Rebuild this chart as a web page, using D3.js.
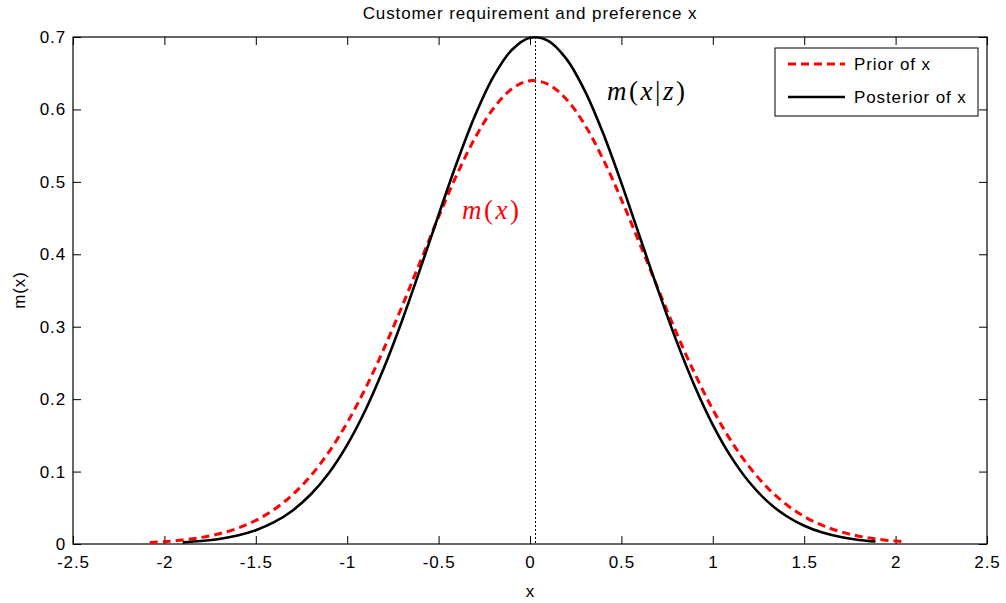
<!DOCTYPE html>
<html><head><meta charset="utf-8">
<script src="https://cdn.jsdelivr.net/npm/d3@7/dist/d3.min.js"></script>
<style>body{margin:0;background:#fff}</style>
</head><body>
<svg id="c" width="1006" height="603"></svg>
<script>
const title = "Customer requirement and preference x";
const xLabel = "x";
const yLabel = "m(x)";
const xTicks = [-2.5,-2,-1.5,-1,-0.5,0,0.5,1,1.5,2,2.5];
const yTicks = [0,0.1,0.2,0.3,0.4,0.5,0.6,0.7];
const seriesNames = ["Prior of x","Posterior of x"];
const priorX = [-2.08,-2.0,-1.9,-1.8,-1.7,-1.6,-1.5,-1.4,-1.3,-1.2,-1.1,-1.0,-0.9,-0.8,-0.7,-0.6,-0.5,-0.4,-0.3,-0.2,-0.1,0.0,0.1,0.2,0.3,0.4,0.5,0.6,0.7,0.8,0.9,1.0,1.1,1.2,1.3,1.4,1.5,1.6,1.7,1.8,1.9,2.0,2.06];
const priorY = [0.0022,0.0033,0.0055,0.0090,0.0141,0.0217,0.0326,0.0476,0.0678,0.0940,0.1271,0.1675,0.2150,0.2691,0.3281,0.3900,0.4517,0.5099,0.5609,0.6013,0.6282,0.6397,0.6347,0.6138,0.5785,0.5313,0.4756,0.4149,0.3527,0.2922,0.2360,0.1857,0.1423,0.1064,0.0775,0.0550,0.0380,0.0256,0.0169,0.0108,0.0067,0.0041,0.0030];
const postX = [-1.9,-1.8,-1.7,-1.6,-1.5,-1.4,-1.3,-1.2,-1.1,-1.0,-0.9,-0.8,-0.7,-0.6,-0.5,-0.4,-0.3,-0.2,-0.1,0.0,0.1,0.2,0.3,0.4,0.5,0.6,0.7,0.8,0.9,1.0,1.1,1.2,1.3,1.4,1.5,1.6,1.7,1.8,1.89];
const postY = [0.0023,0.0041,0.0070,0.0118,0.0191,0.0301,0.0460,0.0683,0.0981,0.1369,0.1850,0.2425,0.3083,0.3801,0.4544,0.5267,0.5920,0.6453,0.6820,0.6990,0.6947,0.6695,0.6257,0.5671,0.4983,0.4246,0.3509,0.2811,0.2185,0.1646,0.1203,0.0852,0.0585,0.0390,0.0252,0.0158,0.0096,0.0056,0.0034];
const markerX = 0.03;

const svg = d3.select("#c");
const L=73, R=987, T=37, B=544;
const x = d3.scaleLinear().domain([-2.5,2.5]).range([L,R]);
const y = d3.scaleLinear().domain([0,0.7]).range([B,T]);
const font = "'Liberation Sans', Arial, sans-serif";
const fs = 17, ls = 0.9;
const fmt = d => String(d);

// frame
svg.append("rect").attr("x",L).attr("y",T).attr("width",R-L).attr("height",B-T)
  .attr("fill","none").attr("stroke","#000").attr("stroke-width",1.2);

const tl = 8;
const gb = svg.append("g").attr("transform",`translate(0,${B})`)
  .call(d3.axisBottom(x).tickValues(xTicks).tickSize(-tl).tickPadding(12).tickFormat(fmt));
const gt = svg.append("g").attr("transform",`translate(0,${T})`)
  .call(d3.axisTop(x).tickValues(xTicks).tickSize(-tl).tickFormat(""));
const gl = svg.append("g").attr("transform",`translate(${L},0)`)
  .call(d3.axisLeft(y).tickValues(yTicks).tickSize(-tl).tickPadding(7).tickFormat(fmt));
const gr = svg.append("g").attr("transform",`translate(${R},0)`)
  .call(d3.axisRight(y).tickValues(yTicks).tickSize(-tl).tickFormat(""));
[gb,gt,gl,gr].forEach(g=>{
  g.select(".domain").remove();
  g.selectAll("line").attr("stroke","#000").attr("stroke-width",1);
  g.selectAll("text").attr("font-family",font).attr("font-size",fs).attr("letter-spacing",ls).attr("fill","#000");
});

// dotted marker
svg.append("line").attr("x1",x(markerX)).attr("x2",x(markerX)).attr("y1",T).attr("y2",B)
  .attr("stroke","#000").attr("stroke-width",1).attr("stroke-dasharray","2,2");

const line = d3.line().x(d=>x(d[0])).y(d=>y(d[1])).curve(d3.curveCatmullRom);
svg.append("path").datum(priorX.map((v,i)=>[v,priorY[i]])).attr("d",line)
  .attr("fill","none").attr("stroke","#ff0000").attr("stroke-width",3).attr("stroke-dasharray","8,5");
svg.append("path").datum(postX.map((v,i)=>[v,postY[i]])).attr("d",line)
  .attr("fill","none").attr("stroke","#000").attr("stroke-width",2.6);

// title and labels
svg.append("text").attr("x",(L+R)/2).attr("y",19).attr("text-anchor","middle")
  .attr("font-family",font).attr("font-size",fs).attr("letter-spacing",ls).text(title);
svg.append("text").attr("x",(L+R)/2).attr("y",597).attr("text-anchor","middle")
  .attr("font-family",font).attr("font-size",fs).text(xLabel);
svg.append("text").attr("transform","translate(25,290) rotate(-90)").attr("text-anchor","middle")
  .attr("font-family",font).attr("font-size",fs).attr("letter-spacing",ls).text(yLabel);

// annotations
const serif = "'Liberation Serif','Times New Roman',serif";
const a1 = svg.append("text").attr("x",607).attr("y",100).attr("font-family",serif).attr("font-size",27)
  .attr("letter-spacing",2.5).attr("fill","#000");
a1.append("tspan").attr("font-style","italic").text("m");
a1.append("tspan").text("(");
a1.append("tspan").attr("font-style","italic").text("x");
a1.append("tspan").text("|");
a1.append("tspan").attr("font-style","italic").text("z");
a1.append("tspan").text(")");
const a2 = svg.append("text").attr("x",462).attr("y",219).attr("font-family",serif).attr("font-size",27)
  .attr("letter-spacing",2.5).attr("fill","#ff0000");
a2.append("tspan").attr("font-style","italic").text("m");
a2.append("tspan").text("(");
a2.append("tspan").attr("font-style","italic").text("x");
a2.append("tspan").text(")");

// legend
const lg = svg.append("g");
lg.append("rect").attr("x",775).attr("y",48).attr("width",203).attr("height",68)
  .attr("fill","#fff").attr("stroke","#000").attr("stroke-width",1);
const items = [{c:"#ff0000",d:"8,5",w:3},{c:"#000",d:null,w:2.6}];
seriesNames.forEach((n,i)=>{
  const yy = 64 + i*33;
  lg.append("line").attr("x1",788).attr("x2",845).attr("y1",yy).attr("y2",yy)
    .attr("stroke",items[i].c).attr("stroke-width",items[i].w).attr("stroke-dasharray",items[i].d);
  lg.append("text").attr("x",854).attr("y",yy+6).attr("font-family",font).attr("font-size",fs)
    .attr("letter-spacing",ls).text(n);
});
</script>
</body></html>
